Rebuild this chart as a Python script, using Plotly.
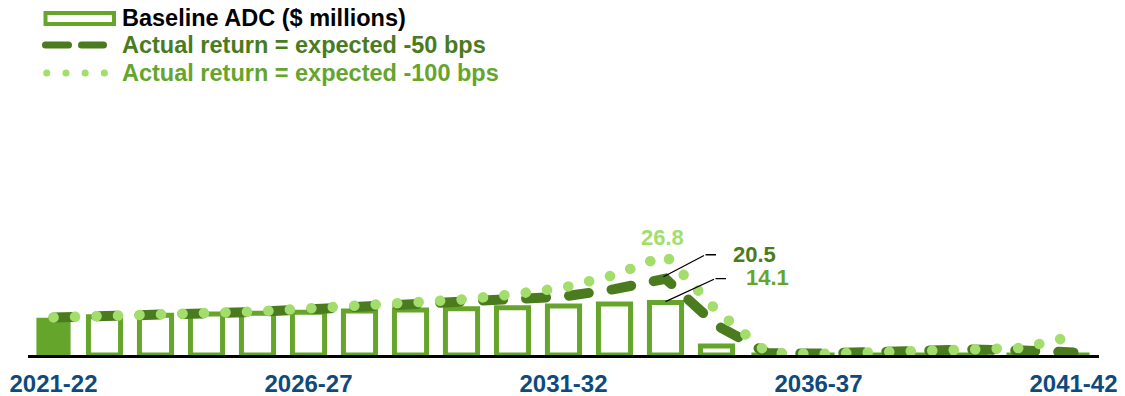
import plotly.graph_objects as go

years = ["2021-22", "2022-23", "2023-24", "2024-25", "2025-26", "2026-27", "2027-28",
         "2028-29", "2029-30", "2030-31", "2031-32", "2032-33", "2033-34", "2034-35",
         "2035-36", "2036-37", "2037-38", "2038-39", "2039-40", "2040-41", "2041-42"]
baseline_adc = [10.0, 10.3, 10.7, 11.0, 11.2, 11.5, 11.8, 12.1, 12.4, 12.7, 13.2, 13.7, 14.1,
                2.4, 0, 0, 0, 0, 0, 0, 0]
minus_50 = [10.1, 10.3, 10.8, 11.2, 11.6, 12.2, 12.7, 13.5, 14.1, 14.9, 15.7, 17.7, 20.5,
            8.0, 0.5, 0.4, 0.8, 1.3, 1.5, 1.2, 0.7]
minus_100 = [10.1, 10.3, 10.8, 11.3, 11.7, 12.4, 13.2, 14.1, 14.9, 16.3, 18.1, 21.5, 26.8,
             12.0, 0.6, 0.3, 0.6, 1.2, 1.7, 1.9, 5.1]
tick_years = ["2021-22", "2026-27", "2031-32", "2036-37", "2041-42"]
series_names = ["Baseline ADC ($ millions)", "Actual return = expected -50 bps",
                "Actual return = expected -100 bps"]

BAR = "#66a52b"
DARK = "#4a7b1e"
LIGHT = "#a3de6c"
BLUE = "#0e4a7c"
FONT = "Liberation Sans, Arial, sans-serif"

W, H = 1125, 396
ML, MR, MT, MB = 28, 26, 100, 41
PW, PH = W - ML - MR, H - MT - MB
PXU = 3.72
YMAX = PH / PXU

fig = go.Figure()
fig.add_trace(go.Bar(
    x=years, y=baseline_adc, name=series_names[0],
    marker=dict(color=[BAR] + ["white"] * (len(years) - 1),
                line=dict(color=BAR, width=[0] + [5] * (len(years) - 1))),
    width=[0.67] + [0.63] * (len(years) - 1),
    cliponaxis=False, showlegend=False, hoverinfo="x+y"))
fig.add_trace(go.Scatter(
    x=years, y=minus_50, name=series_names[1], mode="lines",
    line=dict(color=DARK, width=10, dash="20px,23px"),
    cliponaxis=False, showlegend=False))
fig.add_trace(go.Scatter(
    x=years, y=minus_100, name=series_names[2], mode="lines",
    line=dict(color=LIGHT, width=10.5, dash="0.1px,21.4px"),
    cliponaxis=False, showlegend=False))


def px_x(p):
    return (p - ML) / PW


def px_y(p):
    return (H - MB - p) / PH


shapes = [
    dict(type="rect", xref="paper", yref="paper", x0=px_x(45.5), x1=px_x(114), y0=px_y(24), y1=px_y(13),
         line=dict(color=BAR, width=4), fillcolor="white"),
    dict(type="line", xref="paper", yref="paper", x0=px_x(45.5), x1=px_x(103.5), y0=px_y(45), y1=px_y(45),
         line=dict(color=DARK, width=7, dash="23px,13px")),
    dict(type="line", xref="paper", yref="paper", x0=px_x(46.7), x1=px_x(105), y0=px_y(73), y1=px_y(73),
         line=dict(color=LIGHT, width=7, dash="0.1px,19.1px")),
]
legend_colors = ["black", DARK, BAR]
legend_y = [18, 45, 73]
annotations = []
for name, c, yy in zip(series_names, legend_colors, legend_y):
    annotations.append(dict(xref="paper", yref="paper", x=px_x(120), y=px_y(yy), text="<b>%s</b>" % name,
                            showarrow=False, xanchor="left", yanchor="middle",
                            font=dict(family=FONT, size=23.5, color=c)))

i_peak = years.index("2033-34")
pk = years[i_peak]
# 26.8 label
annotations.append(dict(x=pk, y=minus_100[i_peak], text="<b>%.1f</b>" % minus_100[i_peak], showarrow=False,
                        xshift=-3, yshift=18, xanchor="center", yanchor="middle",
                        font=dict(family=FONT, size=22, color=LIGHT)))
# 20.5 label + leader
annotations.append(dict(x=pk, y=minus_50[i_peak], text="<b>%.1f</b>" % minus_50[i_peak], showarrow=False,
                        xshift=65, yshift=24, xanchor="left", yanchor="middle",
                        font=dict(family=FONT, size=22, color=DARK)))
annotations.append(dict(x=pk, y=minus_50[i_peak], text=" ", font=dict(size=1), showarrow=True, arrowhead=0,
                        arrowwidth=1.3, arrowcolor="black", ax=42, ay=-22, xshift=-2, yshift=2,
                        standoff=0, startstandoff=0))
annotations.append(dict(x=pk, y=minus_50[i_peak], text=" ", font=dict(size=1), showarrow=True, arrowhead=0,
                        arrowwidth=1.3, arrowcolor="black", ax=12, ay=0, xshift=40, yshift=24,
                        standoff=0, startstandoff=0))
# 14.1 label + leader
annotations.append(dict(x=pk, y=baseline_adc[i_peak], text="<b>%.1f</b>" % baseline_adc[i_peak],
                        showarrow=False, xshift=78, yshift=25, xanchor="left", yanchor="middle",
                        font=dict(family=FONT, size=22, color=BAR)))
annotations.append(dict(x=pk, y=baseline_adc[i_peak], text=" ", font=dict(size=1), showarrow=True, arrowhead=0,
                        arrowwidth=1.3, arrowcolor="black", ax=50, ay=-23, xshift=0, yshift=1,
                        standoff=0, startstandoff=0))
annotations.append(dict(x=pk, y=baseline_adc[i_peak], text=" ", font=dict(size=1), showarrow=True, arrowhead=0,
                        arrowwidth=1.3, arrowcolor="black", ax=12, ay=0, xshift=50, yshift=24,
                        standoff=0, startstandoff=0))

fig.update_layout(
    width=W, height=H, margin=dict(l=ML, r=MR, t=MT, b=MB, pad=0, autoexpand=False),
    paper_bgcolor="white", plot_bgcolor="white",
    showlegend=False, bargap=0.37,
    shapes=shapes, annotations=annotations,
    font=dict(family=FONT),
    xaxis=dict(type="category", categoryorder="array", categoryarray=years, automargin=False,
               range=[-0.5, len(years) - 0.5], tickmode="array", tickvals=tick_years,
               ticktext=["<b>%s</b>" % t for t in tick_years], ticks="", showgrid=False,
               showline=True, linecolor="black", linewidth=2.5, zeroline=False,
               ticklabelstandoff=5,
               tickfont=dict(family=FONT, size=24, color=BLUE), fixedrange=True),
    yaxis=dict(range=[0, YMAX], visible=False, showgrid=False, zeroline=False, fixedrange=True,
               automargin=False),
)

post = """
var st = document.createElement('style');
st.innerHTML = '.scatterlayer .js-line, .shapelayer path { stroke-linecap: round; }';
document.head.appendChild(st);
"""
fig.write_html("out.html", post_script=post, config={"displayModeBar": False})
